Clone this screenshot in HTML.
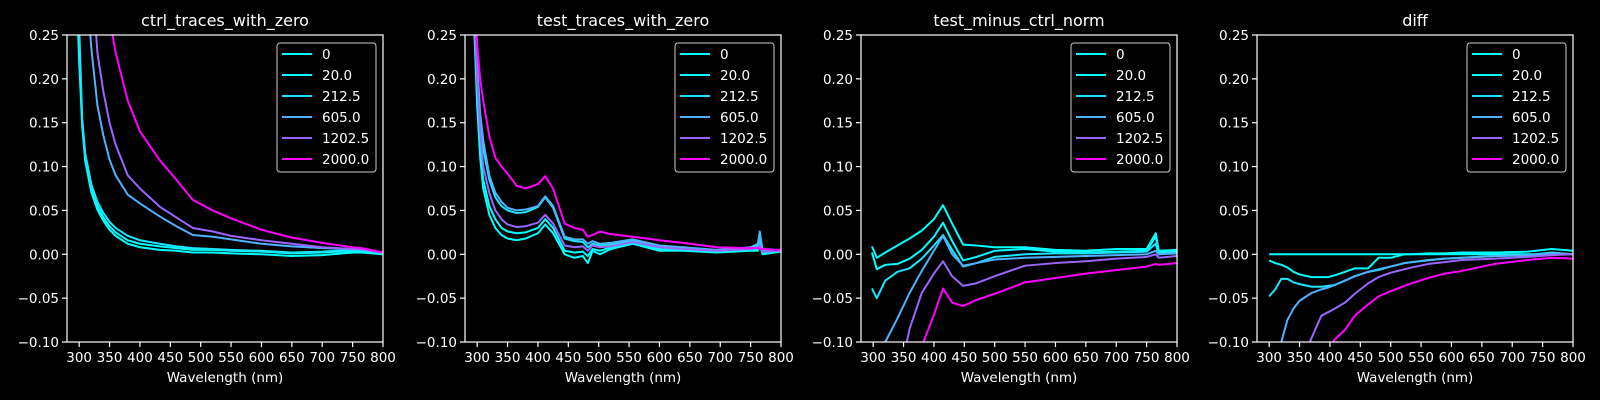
<!DOCTYPE html>
<html><head><meta charset="utf-8">
<style>
html,body{margin:0;padding:0;background:#000;width:1600px;height:400px;overflow:hidden;}
svg{display:block;}
text{font-family:"DejaVu Sans","Liberation Sans",sans-serif;fill:#fff;}
</style></head>
<body>
<svg id="fig" width="1600" height="400" viewBox="0 0 1600 400" xmlns="http://www.w3.org/2000/svg">
<rect width="1600" height="400" fill="#000"/>
</svg>
<script>
// ---- data ----
const seriesLabels = ["0","20.0","212.5","605.0","1202.5","2000.0"];
const seriesColors = ["#00ffff","#03fcff","#1be4ff","#4db2ff","#9966ff","#ff00ff"];
const yTicks = [-0.10,-0.05,0.00,0.05,0.10,0.15,0.20,0.25];
const xTicks = [300,350,400,450,500,550,600,650,700,750,800];
const panelTitles = ["ctrl_traces_with_zero","test_traces_with_zero","test_minus_ctrl_norm","diff"];

const W1 = [296,300,305,310,320,330,340,350,360,380,400,433,460,487,520,550,600,650,700,750,765,800];
const P1_0 = [0.3,0.22,0.146,0.106,0.071,0.051,0.038,0.028,0.021,0.012,0.008,0.005,0.004,0.002,0.002,0.001,0.0,-0.002,-0.001,0.002,0.002,0.0];
const P1_20 = [0.32,0.24,0.15,0.11,0.075,0.055,0.042,0.032,0.025,0.016,0.012,0.009,0.007,0.005,0.005,0.004,0.003,0.001,0.002,0.004,0.004,0.001];
const P1_212 = [0.34,0.26,0.155,0.115,0.08,0.06,0.047,0.037,0.03,0.021,0.016,0.012,0.009,0.007,0.006,0.005,0.004,0.002,0.003,0.005,0.005,0.001];
const P1_605 = [0.6,0.5,0.4,0.33,0.235,0.17,0.135,0.108,0.09,0.068,0.058,0.043,0.032,0.022,0.02,0.017,0.012,0.009,0.007,0.006,0.005,0.002];
const P1_1202 = [0.8,0.7,0.55,0.45,0.33,0.23,0.185,0.15,0.125,0.09,0.075,0.054,0.042,0.03,0.026,0.021,0.016,0.012,0.008,0.006,0.006,0.002];
const P1_2000 = [1.2,1.0,0.8,0.7,0.5,0.4,0.32,0.27,0.23,0.175,0.14,0.107,0.085,0.062,0.05,0.041,0.028,0.019,0.013,0.008,0.007,0.002];

const W2 = [295,300,305,310,320,330,340,350,365,380,400,412,425,444,460,474,482,490,502,520,556,600,639,694,750,762,765,770,800];
const P2_0 = [0.26,0.17,0.11,0.075,0.045,0.03,0.022,0.018,0.016,0.018,0.024,0.034,0.024,0.0,-0.004,-0.002,-0.01,0.004,0.0,0.006,0.012,0.004,0.004,0.002,0.004,0.004,0.01,0.0,0.003];
const P2_20 = [0.27,0.18,0.12,0.085,0.055,0.04,0.03,0.026,0.024,0.025,0.03,0.04,0.03,0.004,0.002,0.003,-0.002,0.006,0.004,0.008,0.014,0.006,0.005,0.003,0.005,0.006,0.012,0.002,0.004];
const P2_212 = [0.29,0.21,0.15,0.12,0.085,0.065,0.055,0.05,0.047,0.048,0.054,0.065,0.053,0.018,0.015,0.014,0.008,0.012,0.01,0.011,0.016,0.009,0.007,0.004,0.007,0.01,0.02,0.002,0.004];
const P2_605 = [0.3,0.22,0.16,0.13,0.09,0.07,0.06,0.053,0.05,0.051,0.055,0.066,0.055,0.02,0.017,0.017,0.012,0.015,0.012,0.013,0.017,0.01,0.008,0.005,0.008,0.012,0.026,0.004,0.005];
const P2_1202 = [0.28,0.2,0.14,0.1,0.07,0.05,0.04,0.034,0.031,0.032,0.036,0.045,0.035,0.01,0.008,0.009,0.004,0.01,0.008,0.009,0.014,0.008,0.006,0.004,0.006,0.008,0.01,0.003,0.004];
const P2_2000 = [0.3,0.24,0.2,0.175,0.135,0.11,0.1,0.092,0.078,0.075,0.08,0.089,0.075,0.035,0.03,0.028,0.02,0.022,0.026,0.023,0.02,0.016,0.013,0.008,0.007,0.007,0.006,0.006,0.005];

const W3 = [298,306,320,340,360,380,400,415,430,448,470,500,550,600,650,700,750,765,770,800];
const P3_0 = [0.009,-0.004,0.002,0.01,0.018,0.027,0.04,0.056,0.035,0.011,0.01,0.008,0.008,0.005,0.004,0.006,0.006,0.024,0.004,0.005];
const P3_20 = [0.002,-0.017,-0.012,-0.011,-0.005,0.005,0.02,0.036,0.015,-0.007,-0.003,0.004,0.006,0.003,0.002,0.003,0.004,0.02,0.002,0.003];
const P3_212 = [-0.039,-0.05,-0.03,-0.02,-0.016,-0.005,0.01,0.022,0.005,-0.014,-0.01,-0.003,0.0,0.001,0.001,0.002,0.003,0.012,0.0,0.002];
const P3_605 = [-0.2,-0.16,-0.1,-0.073,-0.044,-0.019,0.004,0.021,0.0,-0.013,-0.01,-0.006,-0.004,-0.003,-0.002,-0.001,0.0,0.004,0.0,0.001];
const P3_1202 = [-0.3,-0.26,-0.2,-0.15,-0.085,-0.044,-0.022,-0.008,-0.025,-0.036,-0.033,-0.025,-0.013,-0.01,-0.008,-0.005,-0.003,0.0,-0.004,-0.002];
const P3_2000 = [-0.4,-0.38,-0.33,-0.25,-0.17,-0.105,-0.069,-0.039,-0.055,-0.059,-0.052,-0.045,-0.032,-0.027,-0.022,-0.018,-0.014,-0.011,-0.012,-0.01];

const W4 = [300,310,320,330,340,350,370,386,397,408,425,441,463,480,500,523,535,562,589,617,671,726,765,800];
const P4_0 = [0,0,0,0,0,0,0,0,0,0,0,0,0,0,0,0,0,0,0,0,0,0,0,0];
const P4_20 = [-0.007,-0.01,-0.012,-0.015,-0.02,-0.023,-0.026,-0.026,-0.026,-0.024,-0.02,-0.016,-0.016,-0.004,-0.004,0.0,0.0,0.001,0.001,0.002,0.002,0.003,0.006,0.004];
const P4_212 = [-0.048,-0.04,-0.028,-0.028,-0.032,-0.034,-0.037,-0.037,-0.036,-0.035,-0.03,-0.025,-0.02,-0.018,-0.014,-0.01,-0.009,-0.0065,-0.005,-0.004,-0.002,-0.001,0.002,0.0];
const P4_605 = [-0.2,-0.15,-0.1,-0.075,-0.062,-0.053,-0.044,-0.04,-0.038,-0.035,-0.03,-0.025,-0.02,-0.017,-0.014,-0.01,-0.009,-0.007,-0.005,-0.004,-0.002,-0.001,0.001,0.0];
const P4_1202 = [-0.3,-0.26,-0.22,-0.19,-0.16,-0.13,-0.095,-0.07,-0.066,-0.062,-0.055,-0.045,-0.033,-0.026,-0.021,-0.017,-0.015,-0.011,-0.009,-0.0065,-0.005,-0.003,-0.001,0.0];
const P4_2000 = [-0.4,-0.37,-0.33,-0.3,-0.26,-0.22,-0.17,-0.13,-0.11,-0.097,-0.086,-0.07,-0.057,-0.048,-0.042,-0.036,-0.033,-0.027,-0.022,-0.019,-0.011,-0.0065,-0.004,-0.005];

const panelX = [W1,W2,W3,W4];
const panelY = [
  [P1_0,P1_20,P1_212,P1_605,P1_1202,P1_2000],
  [P2_0,P2_20,P2_212,P2_605,P2_1202,P2_2000],
  [P3_0,P3_20,P3_212,P3_605,P3_1202,P3_2000],
  [P4_0,P4_20,P4_212,P4_605,P4_1202,P4_2000]
];

// ---- layout ----
const NS = "http://www.w3.org/2000/svg";
const svg = document.getElementById('fig');
const lefts = [67, 465, 861, 1257];
const AW = 316, TOP = 35, BOT = 342;
const XMIN = 280, XMAX = 800, YMIN = -0.10, YMAX = 0.25;

function mk(tag, attrs, parent){
  const e = document.createElementNS(NS, tag);
  for (const k in attrs) e.setAttribute(k, attrs[k]);
  (parent||svg).appendChild(e);
  return e;
}
function fmtY(v){
  const s = Math.abs(v).toFixed(2);
  return (v < -1e-9 ? "\u2212" : "") + s;
}

const defs = mk('defs', {});
for (let p = 0; p < 4; p++) {
  const L = lefts[p];
  const xs = v => L + (v - XMIN) / (XMAX - XMIN) * AW;
  const ys = v => BOT - (v - YMIN) / (YMAX - YMIN) * (BOT - TOP);

  const cp = mk('clipPath', {id: 'clip' + p}, defs);
  mk('rect', {x: L, y: TOP, width: AW, height: BOT - TOP}, cp);

  const g = mk('g', {});
  
  

  const t = mk('text', {x: L + AW / 2, y: 26, 'font-size': 16, 'text-anchor': 'middle'}, g);
  t.textContent = panelTitles[p];
  
  

  const sg = mk('g', {'clip-path': 'url(#clip' + p + ')'}, g);
  const X = panelX[p];
  panelY[p].forEach((vals, si) => {
    let d = '';
    vals.forEach((v, i) => { d += (i ? 'L' : 'M') + xs(X[i]).toFixed(2) + ',' + ys(v).toFixed(2); });
    const path = mk('path', {d: d, fill: 'none', stroke: seriesColors[si], 'stroke-width': 2, 'stroke-linejoin': 'round'}, sg);
    
    
  });

  const fr = mk('rect', {x: L, y: TOP, width: AW, height: BOT - TOP, fill: 'none', stroke: '#fff', 'stroke-width': 1.2}, g);
  
  

  yTicks.forEach(v => {
    const y = ys(v);
    mk('line', {x1: L - 5, x2: L, y1: y, y2: y, stroke: '#fff', 'stroke-width': 1.2}, g);
    const tl = mk('text', {x: L - 8, y: y + 5, 'font-size': 13.5, 'text-anchor': 'end'}, g);
    tl.textContent = fmtY(v);
    
    
  });
  xTicks.forEach(v => {
    const x = xs(v);
    mk('line', {x1: x, x2: x, y1: BOT, y2: BOT + 5, stroke: '#fff', 'stroke-width': 1.2}, g);
    const tl = mk('text', {x: x, y: BOT + 20, 'font-size': 13.5, 'text-anchor': 'middle'}, g);
    tl.textContent = String(v);
    
    
  });
  const xl = mk('text', {x: L + AW / 2, y: 382, 'font-size': 13.5, 'text-anchor': 'middle'}, g);
  xl.textContent = 'Wavelength (nm)';
  
  

  const lg = mk('g', {}, g);
  
  
  const LR = L + AW - 7, LW = 99;
  mk('rect', {x: LR - LW, y: 43, width: LW, height: 129, rx: 3, fill: '#000', 'fill-opacity': 0.8, stroke: '#cccccc', 'stroke-width': 1}, lg);
  seriesLabels.forEach((lab, i) => {
    const y = 54 + i * 21;
    const ln = mk('line', {x1: LR - LW + 5, x2: LR - LW + 35, y1: y, y2: y, stroke: seriesColors[i], 'stroke-width': 2}, lg);
    
    
    const lt = mk('text', {x: LR - LW + 45, y: y + 5, 'font-size': 13.5}, lg);
    lt.textContent = lab;
    
    
  });
}
</script>
</body></html>
